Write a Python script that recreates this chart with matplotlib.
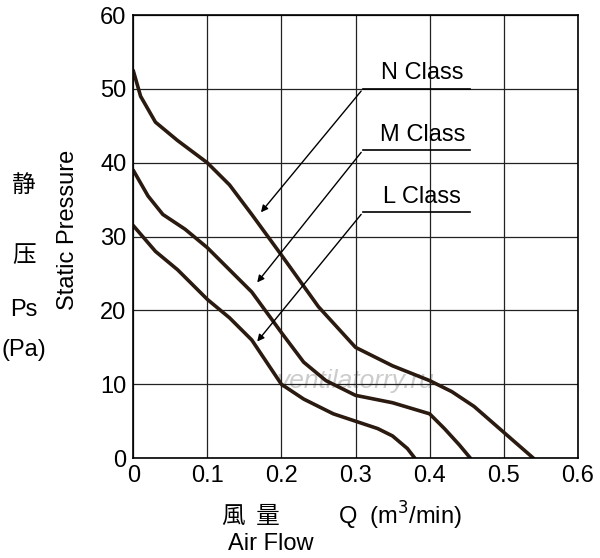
import matplotlib
matplotlib.use("Agg")
import matplotlib.pyplot as plt

plt.rcParams['font.family'] = ['Liberation Sans', 'Noto Sans CJK SC', 'DejaVu Sans']

n_x = [0, 0.01, 0.03, 0.06, 0.1, 0.13, 0.16, 0.2, 0.25, 0.3, 0.35, 0.4, 0.43, 0.46, 0.5, 0.54]
n_y = [52.5, 49, 45.5, 43, 40, 37, 33, 27.5, 20.5, 15, 12.5, 10.5, 9, 7, 3.5, 0]
m_x = [0, 0.02, 0.04, 0.07, 0.1, 0.13, 0.16, 0.2, 0.23, 0.26, 0.3, 0.35, 0.4, 0.42, 0.44, 0.455]
m_y = [39, 35.5, 33, 31, 28.5, 25.5, 22.5, 17, 13, 10.5, 8.5, 7.5, 6, 4, 1.8, 0]
l_x = [0, 0.03, 0.06, 0.1, 0.13, 0.16, 0.18, 0.2, 0.23, 0.27, 0.3, 0.33, 0.35, 0.37, 0.38]
l_y = [31.5, 28, 25.5, 21.5, 19, 16, 13, 10, 8, 6, 5, 4, 3, 1.3, 0]

fig = plt.figure(figsize=(6, 5.58), dpi=100)
ax = fig.add_axes([0.222, 0.179, 0.741, 0.794])
c = '#2a1a10'
for x, y in [(n_x, n_y), (m_x, m_y), (l_x, l_y)]:
    ax.plot(x, y, color=c, lw=2.6, solid_capstyle='round', solid_joinstyle='round')
ax.set_xlim(0, 0.6)
ax.set_ylim(0, 60)
ax.set_xticks([0, 0.1, 0.2, 0.3, 0.4, 0.5, 0.6])
ax.set_xticklabels(['0', '0.1', '0.2', '0.3', '0.4', '0.5', '0.6'])
ax.set_yticks(range(0, 61, 10))
ax.grid(True, color='#222', lw=0.9)
ax.tick_params(labelsize=17, length=0, pad=5)
for s in ax.spines.values():
    s.set_linewidth(1.2)

labels = [('N Class', 50, (0.17, 33)), ('M Class', 41.7, (0.165, 23.5)), ('L Class', 33.3, (0.165, 15.5))]
for txt, yl, tgt in labels:
    ax.plot([0.31, 0.455], [yl, yl], color='k', lw=1.2)
    ax.text(0.39, yl + 0.6, txt, ha='center', va='bottom', fontsize=17)
    ax.annotate('', xy=tgt, xytext=(0.31, yl),
                arrowprops=dict(arrowstyle='-|>', color='k', lw=1, mutation_scale=10))

ax.text(0.3, 10.5, 'ventilatorry.ru', fontsize=19, style='italic', color='#cccccc',
        ha='center', va='center', zorder=0)

fig.text(68/600, 1-230/558, 'Static Pressure', rotation=90, fontsize=17, ha='center', va='center')
for t, yy in [('静', 185), ('压', 255), ('Ps', 310), ('(Pa)', 350)]:
    fig.text(24/600, 1-yy/558, t, fontsize=17, ha='center', va='center',
             family=['Noto Sans CJK SC', 'DejaVu Sans'] if t in '静压' else None)
fig.text(222/600, 1-516/558, '風  量', fontsize=17, ha='left', va='center',
         family=['Noto Sans CJK SC', 'DejaVu Sans'])
fig.text(338/600, 1-516/558, 'Q  (m$^3$/min)', fontsize=17, ha='left', va='center')
fig.text(228/600, 1-544/558, 'Air Flow', fontsize=17, ha='left', va='center')
fig.savefig('out.png')
